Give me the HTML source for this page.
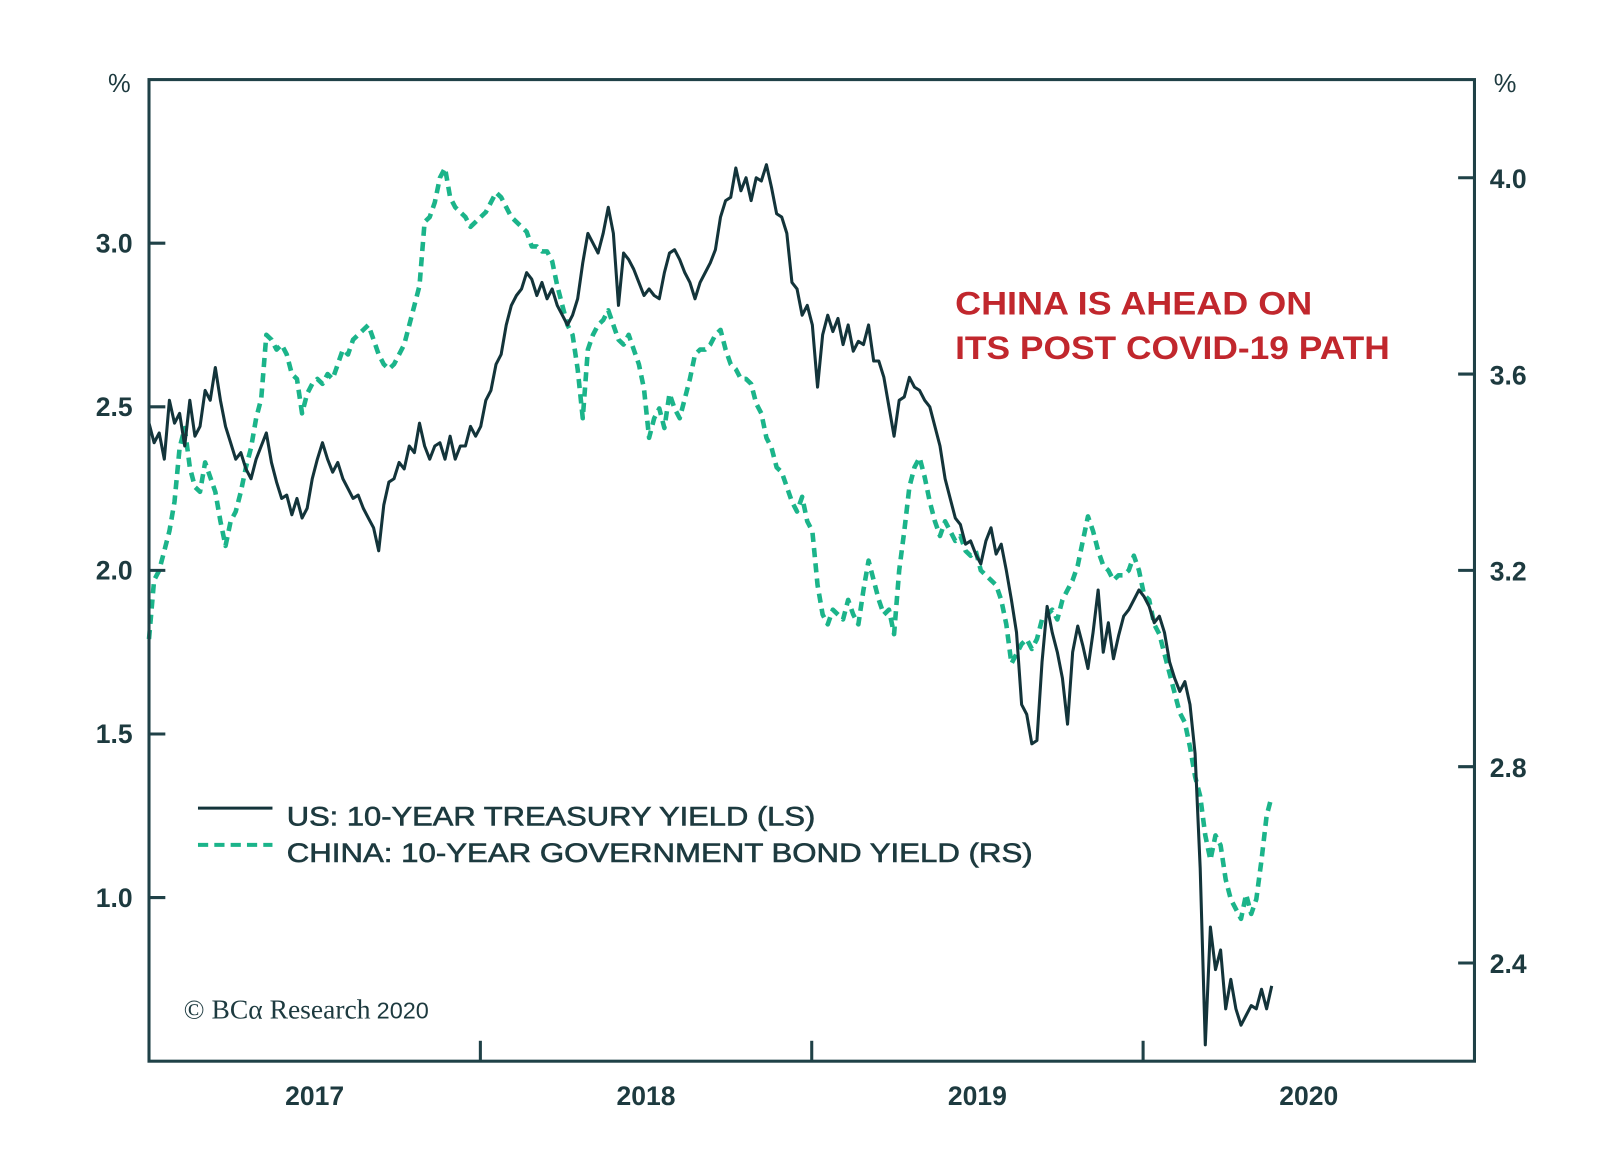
<!DOCTYPE html>
<html><head><meta charset="utf-8"><style>
html,body{margin:0;padding:0;background:#fff;}
svg{display:block;}
text{font-family:"Liberation Sans",sans-serif;}
</style></head><body>
<svg id="chart" width="1600" height="1167" viewBox="0 0 1568 1143.7" xmlns="http://www.w3.org/2000/svg">
<rect x="0" y="0" width="1568" height="1144" fill="#fff"/>
<g id="plot"></g>
<g id="axes"></g>
<text x="936" y="308" font-size="32" font-weight="bold" fill="#c1272d" textLength="350" lengthAdjust="spacingAndGlyphs">CHINA IS AHEAD ON</text>
<text x="936" y="352" font-size="32" font-weight="bold" fill="#c1272d" textLength="426" lengthAdjust="spacingAndGlyphs">ITS POST COVID-19 PATH</text>
<g>
<line x1="194" y1="792" x2="267" y2="792" stroke="#13343a" stroke-width="3"/>
<text x="281" y="809" font-size="26" fill="#1d3a3f" stroke="#1d3a3f" stroke-width="0.6" textLength="518" lengthAdjust="spacingAndGlyphs">US: 10-YEAR TREASURY YIELD (LS)</text>
<line x1="194" y1="828" x2="267" y2="828" stroke="#1bb48a" stroke-width="4" stroke-dasharray="10 6"/>
<text x="281" y="845" font-size="26" fill="#1d3a3f" stroke="#1d3a3f" stroke-width="0.6" textLength="731" lengthAdjust="spacingAndGlyphs">CHINA: 10-YEAR GOVERNMENT BOND YIELD (RS)</text>
</g>
<text x="180" y="998" font-size="27" fill="#1d3a3f"><tspan style="font-family:'Liberation Serif',serif">© BCα Research</tspan><tspan font-size="23" dx="6">2020</tspan></text>
</svg>
<script>
// ---- data ----
const dateStart = 2016.5;
const dateStepYears = 0.0154;
const usYield = [2.45,2.39,2.42,2.34,2.52,2.45,2.48,2.38,2.52,2.41,2.44,2.55,2.52,2.62,2.52,2.44,2.39,2.34,2.36,2.31,2.28,2.34,2.38,2.42,2.33,2.27,2.22,2.23,2.17,2.22,2.16,2.19,2.28,2.34,2.39,2.34,2.30,2.33,2.28,2.25,2.22,2.23,2.19,2.16,2.13,2.06,2.20,2.27,2.28,2.33,2.31,2.38,2.36,2.45,2.38,2.34,2.38,2.39,2.34,2.41,2.34,2.38,2.38,2.44,2.41,2.44,2.52,2.55,2.63,2.66,2.75,2.81,2.84,2.86,2.91,2.89,2.84,2.88,2.83,2.86,2.81,2.78,2.75,2.78,2.83,2.94,3.03,3.00,2.97,3.03,3.11,3.03,2.81,2.97,2.95,2.92,2.88,2.84,2.86,2.84,2.83,2.91,2.97,2.98,2.95,2.91,2.88,2.83,2.88,2.91,2.94,2.98,3.08,3.13,3.14,3.23,3.16,3.20,3.13,3.20,3.19,3.24,3.17,3.09,3.08,3.03,2.88,2.86,2.78,2.81,2.75,2.56,2.72,2.78,2.73,2.77,2.69,2.75,2.67,2.70,2.69,2.75,2.64,2.64,2.59,2.50,2.41,2.52,2.53,2.59,2.56,2.55,2.52,2.50,2.44,2.38,2.28,2.22,2.16,2.14,2.08,2.09,2.05,2.02,2.09,2.13,2.05,2.08,2.00,1.91,1.81,1.59,1.56,1.47,1.48,1.72,1.89,1.81,1.75,1.67,1.53,1.75,1.83,1.77,1.70,1.81,1.94,1.75,1.84,1.73,1.80,1.86,1.88,1.91,1.94,1.92,1.89,1.84,1.86,1.81,1.72,1.67,1.63,1.66,1.59,1.44,1.09,0.55,0.91,0.78,0.84,0.66,0.75,0.66,0.61,0.64,0.67,0.66,0.72,0.66,0.73];
const chinaYield = [3.06,3.18,3.20,3.24,3.28,3.34,3.45,3.49,3.41,3.37,3.36,3.42,3.39,3.36,3.30,3.25,3.30,3.32,3.36,3.41,3.45,3.51,3.55,3.68,3.67,3.65,3.66,3.64,3.60,3.59,3.52,3.56,3.58,3.59,3.58,3.60,3.59,3.62,3.65,3.64,3.67,3.68,3.69,3.70,3.67,3.64,3.62,3.61,3.62,3.64,3.66,3.70,3.74,3.78,3.91,3.92,3.95,4.00,4.02,3.96,3.94,3.93,3.92,3.90,3.91,3.92,3.93,3.95,3.97,3.96,3.94,3.92,3.91,3.90,3.89,3.86,3.86,3.85,3.85,3.83,3.78,3.74,3.70,3.68,3.61,3.51,3.65,3.68,3.70,3.71,3.73,3.70,3.67,3.66,3.68,3.65,3.62,3.57,3.47,3.51,3.53,3.49,3.56,3.53,3.51,3.55,3.59,3.64,3.65,3.65,3.66,3.68,3.69,3.65,3.62,3.61,3.59,3.59,3.58,3.54,3.52,3.47,3.45,3.41,3.40,3.37,3.34,3.32,3.35,3.30,3.28,3.17,3.11,3.09,3.12,3.11,3.10,3.14,3.11,3.09,3.16,3.22,3.18,3.14,3.11,3.12,3.07,3.20,3.28,3.37,3.41,3.43,3.39,3.34,3.30,3.27,3.30,3.28,3.26,3.27,3.24,3.23,3.24,3.20,3.19,3.18,3.17,3.14,3.09,3.01,3.03,3.05,3.06,3.04,3.06,3.10,3.11,3.12,3.10,3.14,3.16,3.18,3.21,3.26,3.31,3.28,3.24,3.21,3.20,3.18,3.19,3.19,3.20,3.23,3.20,3.15,3.14,3.09,3.07,3.03,2.99,2.95,2.91,2.89,2.84,2.78,2.74,2.66,2.61,2.66,2.64,2.57,2.53,2.51,2.49,2.54,2.50,2.53,2.61,2.70,2.74];
const leftTicks = [1.0,1.5,2.0,2.5,3.0];
const leftTickLabels = ["1.0","1.5","2.0","2.5","3.0"];
const rightTicks = [2.4,2.8,3.2,3.6,4.0];
const rightTickLabels = ["2.4","2.8","3.2","3.6","4.0"];
const yearLabels = ["2017","2018","2019","2020"];
const yearLabelPos = [2017,2018,2019,2020];
const yearTickPos = [2017.5,2018.5,2019.5];

// ---- scales ----
const L=146,R=1445,T=78,B=1040;
const xDomain=[2016.5,2020.5];
const x = d => L + (d - xDomain[0])/(xDomain[1]-xDomain[0])*(R-L);
const yL = v => B - (v - 0.5)/(3.5-0.5)*(B-T);
const yR = v => B - (v - 2.2)/(4.2-2.2)*(B-T);
const NS="http://www.w3.org/2000/svg";
function mk(tag, attrs, parent){const e=document.createElementNS(NS,tag);for(const k in attrs)e.setAttribute(k,attrs[k]);parent.appendChild(e);return e;}
const plot=document.getElementById('plot'), axes=document.getElementById('axes');
const ink="#1d3a3f";

let dC = chinaYield.map((v,i)=>(i?'L':'M')+x(dateStart+i*dateStepYears).toFixed(1)+','+yR(v).toFixed(1)).join(' ');
const cp = mk('path',{d:dC,fill:'none',stroke:'#1bb48a','stroke-width':4.5,'stroke-dasharray':'9 6','stroke-linejoin':'round'},plot);


let dU = usYield.map((v,i)=>(i?'L':'M')+x(dateStart+i*dateStepYears).toFixed(1)+','+yL(v).toFixed(1)).join(' ');
const up = mk('path',{d:dU,fill:'none',stroke:'#13343a','stroke-width':3,'stroke-linejoin':'round'},plot);



const fr = mk('rect',{x:L,y:T,width:R-L,height:B-T,fill:'none',stroke:'#1f4147','stroke-width':3},axes);



leftTicks.forEach((v,i)=>{
  const t=mk('line',{x1:L,x2:L+16,y1:yL(v),y2:yL(v),stroke:'#1f4147','stroke-width':3},axes);
  
  
  const lb=mk('text',{x:130,y:yL(v)+9,'text-anchor':'end','font-size':26,'font-weight':'bold',fill:ink},axes);
  lb.textContent=leftTickLabels[i];
  
  
});
rightTicks.forEach((v,i)=>{
  const t=mk('line',{x1:R-16,x2:R,y1:yR(v),y2:yR(v),stroke:'#1f4147','stroke-width':3},axes);
  
  
  const lb=mk('text',{x:1460,y:yR(v)+10,'text-anchor':'start','font-size':26,'font-weight':'bold',fill:ink},axes);
  lb.textContent=rightTickLabels[i];
  
  
});
yearTickPos.forEach(d=>{
  const t=mk('line',{x1:x(d),x2:x(d),y1:B,y2:B-20,stroke:'#1f4147','stroke-width':3},axes);
  
  
});
yearLabels.forEach((s,i)=>{
  const lb=mk('text',{x:x(yearLabelPos[i]),y:1083,'text-anchor':'middle','font-size':26,'font-weight':'bold',fill:ink},axes);
  lb.textContent=s;
  
  
});
const p1=mk('text',{x:117,y:90,'text-anchor':'middle','font-size':25,fill:ink},axes);
p1.textContent='%';


const p2=mk('text',{x:1475,y:90,'text-anchor':'middle','font-size':25,fill:ink},axes);
p2.textContent='%';


</script>
</body></html>
